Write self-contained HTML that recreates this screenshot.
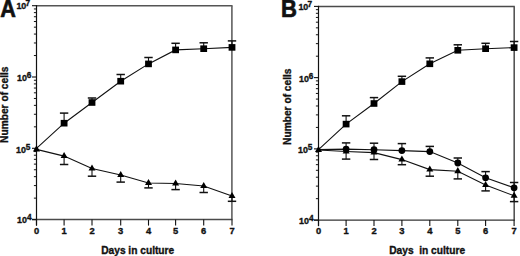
<!DOCTYPE html>
<html><head><meta charset="utf-8"><style>
html,body{margin:0;padding:0;background:#fff;width:520px;height:256px;overflow:hidden}
svg{display:block}
text{font-family:"Liberation Sans",sans-serif;font-weight:bold;fill:#111;stroke:#111;stroke-width:0.35px}
.big{stroke-width:0.65px}
</style></head><body>
<svg width="520" height="256" viewBox="0 0 520 256">
<line x1="36.50" y1="5.70" x2="232.50" y2="5.70" stroke="#555" stroke-width="1.5"/>
<line x1="231.90" y1="5.70" x2="231.90" y2="219.60" stroke="#606060" stroke-width="1.6"/>
<line x1="32.00" y1="219.60" x2="232.50" y2="219.60" stroke="#4a4a4a" stroke-width="1.5"/>
<line x1="36.50" y1="5.10" x2="36.50" y2="225.60" stroke="#111" stroke-width="1.2"/>
<line x1="32.00" y1="219.60" x2="36.50" y2="219.60" stroke="#111" stroke-width="1.1"/>
<line x1="33.90" y1="198.14" x2="36.50" y2="198.14" stroke="#111" stroke-width="1.0"/>
<line x1="33.90" y1="185.58" x2="36.50" y2="185.58" stroke="#111" stroke-width="1.0"/>
<line x1="33.90" y1="176.67" x2="36.50" y2="176.67" stroke="#111" stroke-width="1.0"/>
<line x1="33.90" y1="169.76" x2="36.50" y2="169.76" stroke="#111" stroke-width="1.0"/>
<line x1="33.90" y1="164.12" x2="36.50" y2="164.12" stroke="#111" stroke-width="1.0"/>
<line x1="33.90" y1="159.34" x2="36.50" y2="159.34" stroke="#111" stroke-width="1.0"/>
<line x1="33.90" y1="155.21" x2="36.50" y2="155.21" stroke="#111" stroke-width="1.0"/>
<line x1="33.90" y1="151.56" x2="36.50" y2="151.56" stroke="#111" stroke-width="1.0"/>
<text x="17.00" y="223.30" font-size="9.8" text-anchor="start" textLength="9.9" lengthAdjust="spacingAndGlyphs">10</text>
<text x="27.10" y="220.35" font-size="8.3" text-anchor="start" >4</text>
<line x1="32.00" y1="148.30" x2="36.50" y2="148.30" stroke="#111" stroke-width="1.1"/>
<line x1="33.90" y1="126.84" x2="36.50" y2="126.84" stroke="#111" stroke-width="1.0"/>
<line x1="33.90" y1="114.28" x2="36.50" y2="114.28" stroke="#111" stroke-width="1.0"/>
<line x1="33.90" y1="105.37" x2="36.50" y2="105.37" stroke="#111" stroke-width="1.0"/>
<line x1="33.90" y1="98.46" x2="36.50" y2="98.46" stroke="#111" stroke-width="1.0"/>
<line x1="33.90" y1="92.82" x2="36.50" y2="92.82" stroke="#111" stroke-width="1.0"/>
<line x1="33.90" y1="88.04" x2="36.50" y2="88.04" stroke="#111" stroke-width="1.0"/>
<line x1="33.90" y1="83.91" x2="36.50" y2="83.91" stroke="#111" stroke-width="1.0"/>
<line x1="33.90" y1="80.26" x2="36.50" y2="80.26" stroke="#111" stroke-width="1.0"/>
<text x="16.00" y="152.70" font-size="9.8" text-anchor="start" textLength="9.9" lengthAdjust="spacingAndGlyphs">10</text>
<text x="25.70" y="149.55" font-size="8.3" text-anchor="start" >5</text>
<line x1="32.00" y1="77.00" x2="36.50" y2="77.00" stroke="#111" stroke-width="1.1"/>
<line x1="33.90" y1="55.54" x2="36.50" y2="55.54" stroke="#111" stroke-width="1.0"/>
<line x1="33.90" y1="42.98" x2="36.50" y2="42.98" stroke="#111" stroke-width="1.0"/>
<line x1="33.90" y1="34.07" x2="36.50" y2="34.07" stroke="#111" stroke-width="1.0"/>
<line x1="33.90" y1="27.16" x2="36.50" y2="27.16" stroke="#111" stroke-width="1.0"/>
<line x1="33.90" y1="21.52" x2="36.50" y2="21.52" stroke="#111" stroke-width="1.0"/>
<line x1="33.90" y1="16.74" x2="36.50" y2="16.74" stroke="#111" stroke-width="1.0"/>
<line x1="33.90" y1="12.61" x2="36.50" y2="12.61" stroke="#111" stroke-width="1.0"/>
<line x1="33.90" y1="8.96" x2="36.50" y2="8.96" stroke="#111" stroke-width="1.0"/>
<text x="17.00" y="81.00" font-size="9.8" text-anchor="start" textLength="9.9" lengthAdjust="spacingAndGlyphs">10</text>
<text x="26.70" y="78.20" font-size="8.3" text-anchor="start" >6</text>
<line x1="32.00" y1="5.70" x2="36.50" y2="5.70" stroke="#111" stroke-width="1.1"/>
<text x="16.40" y="9.40" font-size="9.8" text-anchor="start" textLength="9.9" lengthAdjust="spacingAndGlyphs">10</text>
<text x="25.60" y="6.45" font-size="8.3" text-anchor="start" >7</text>
<line x1="36.50" y1="219.60" x2="36.50" y2="225.60" stroke="#111" stroke-width="1.1"/>
<text x="36.50" y="233.80" font-size="9.4" text-anchor="middle" >0</text>
<line x1="64.10" y1="219.60" x2="64.10" y2="225.60" stroke="#111" stroke-width="1.1"/>
<text x="64.10" y="233.80" font-size="9.4" text-anchor="middle" >1</text>
<line x1="92.00" y1="219.60" x2="92.00" y2="225.60" stroke="#111" stroke-width="1.1"/>
<text x="92.00" y="233.80" font-size="9.4" text-anchor="middle" >2</text>
<line x1="120.70" y1="219.60" x2="120.70" y2="225.60" stroke="#111" stroke-width="1.1"/>
<text x="120.70" y="233.80" font-size="9.4" text-anchor="middle" >3</text>
<line x1="148.50" y1="219.60" x2="148.50" y2="225.60" stroke="#111" stroke-width="1.1"/>
<text x="148.50" y="233.80" font-size="9.4" text-anchor="middle" >4</text>
<line x1="175.60" y1="219.60" x2="175.60" y2="225.60" stroke="#111" stroke-width="1.1"/>
<text x="175.60" y="233.80" font-size="9.4" text-anchor="middle" >5</text>
<line x1="203.70" y1="219.60" x2="203.70" y2="225.60" stroke="#111" stroke-width="1.1"/>
<text x="203.70" y="233.80" font-size="9.4" text-anchor="middle" >6</text>
<line x1="232.00" y1="219.60" x2="232.00" y2="225.60" stroke="#111" stroke-width="1.1"/>
<text x="232.00" y="233.80" font-size="9.4" text-anchor="middle" >7</text>
<text x="0" y="0" font-size="23" class="big" transform="translate(0.20,16.90) scale(0.94,1)">A</text>
<text x="101.20" y="253.60" font-size="10.2" text-anchor="start" >Days&#160;in&#160;culture</text>
<text x="0" y="0" font-size="10.2" transform="translate(8.30,104.70) rotate(-90)" text-anchor="middle">Number of cells</text>
<polyline points="36.50,148.30 64.10,123.20 92.00,102.50 120.70,81.20 148.50,63.90 175.60,49.90 203.70,48.70 232.00,47.40" fill="none" stroke="#111" stroke-width="1.1"/>
<polyline points="36.50,149.40 64.10,156.10 92.00,168.60 120.70,175.00 148.50,183.00 175.60,183.50 203.70,186.00 232.00,196.00" fill="none" stroke="#111" stroke-width="1.1"/>
<line x1="64.10" y1="123.20" x2="64.10" y2="113.10" stroke="#111" stroke-width="1.1"/>
<line x1="59.90" y1="113.10" x2="68.30" y2="113.10" stroke="#111" stroke-width="1.5"/>
<line x1="92.00" y1="102.50" x2="92.00" y2="98.00" stroke="#111" stroke-width="1.1"/>
<line x1="87.80" y1="98.00" x2="96.20" y2="98.00" stroke="#111" stroke-width="1.5"/>
<line x1="120.70" y1="81.20" x2="120.70" y2="74.50" stroke="#111" stroke-width="1.1"/>
<line x1="116.50" y1="74.50" x2="124.90" y2="74.50" stroke="#111" stroke-width="1.5"/>
<line x1="148.50" y1="63.90" x2="148.50" y2="57.50" stroke="#111" stroke-width="1.1"/>
<line x1="144.30" y1="57.50" x2="152.70" y2="57.50" stroke="#111" stroke-width="1.5"/>
<line x1="175.60" y1="49.90" x2="175.60" y2="43.30" stroke="#111" stroke-width="1.1"/>
<line x1="171.40" y1="43.30" x2="179.80" y2="43.30" stroke="#111" stroke-width="1.5"/>
<line x1="203.70" y1="48.70" x2="203.70" y2="42.80" stroke="#111" stroke-width="1.1"/>
<line x1="199.50" y1="42.80" x2="207.90" y2="42.80" stroke="#111" stroke-width="1.5"/>
<line x1="232.00" y1="47.40" x2="232.00" y2="40.90" stroke="#111" stroke-width="1.1"/>
<line x1="227.80" y1="40.90" x2="236.20" y2="40.90" stroke="#111" stroke-width="1.5"/>
<line x1="64.10" y1="156.10" x2="64.10" y2="164.50" stroke="#111" stroke-width="1.1"/>
<line x1="59.90" y1="164.50" x2="68.30" y2="164.50" stroke="#111" stroke-width="1.5"/>
<line x1="92.00" y1="168.60" x2="92.00" y2="176.20" stroke="#111" stroke-width="1.1"/>
<line x1="87.80" y1="176.20" x2="96.20" y2="176.20" stroke="#111" stroke-width="1.5"/>
<line x1="120.70" y1="175.00" x2="120.70" y2="182.10" stroke="#111" stroke-width="1.1"/>
<line x1="116.50" y1="182.10" x2="124.90" y2="182.10" stroke="#111" stroke-width="1.5"/>
<line x1="148.50" y1="183.00" x2="148.50" y2="187.90" stroke="#111" stroke-width="1.1"/>
<line x1="144.30" y1="187.90" x2="152.70" y2="187.90" stroke="#111" stroke-width="1.5"/>
<line x1="175.60" y1="183.50" x2="175.60" y2="189.60" stroke="#111" stroke-width="1.1"/>
<line x1="171.40" y1="189.60" x2="179.80" y2="189.60" stroke="#111" stroke-width="1.5"/>
<line x1="203.70" y1="186.00" x2="203.70" y2="192.50" stroke="#111" stroke-width="1.1"/>
<line x1="199.50" y1="192.50" x2="207.90" y2="192.50" stroke="#111" stroke-width="1.5"/>
<line x1="232.00" y1="196.00" x2="232.00" y2="201.30" stroke="#111" stroke-width="1.1"/>
<line x1="227.80" y1="201.30" x2="236.20" y2="201.30" stroke="#111" stroke-width="1.5"/>
<rect x="60.70" y="119.90" width="6.8" height="6.6" fill="#000"/>
<rect x="88.60" y="99.20" width="6.8" height="6.6" fill="#000"/>
<rect x="117.30" y="77.90" width="6.8" height="6.6" fill="#000"/>
<rect x="145.10" y="60.60" width="6.8" height="6.6" fill="#000"/>
<rect x="172.20" y="46.60" width="6.8" height="6.6" fill="#000"/>
<rect x="200.30" y="45.40" width="6.8" height="6.6" fill="#000"/>
<rect x="228.60" y="44.10" width="6.8" height="6.6" fill="#000"/>
<path d="M36.50,145.30 L40.00,151.40 L33.00,151.40 Z" fill="#000"/>
<path d="M64.10,152.00 L67.60,158.10 L60.60,158.10 Z" fill="#000"/>
<path d="M92.00,164.50 L95.50,170.60 L88.50,170.60 Z" fill="#000"/>
<path d="M120.70,170.90 L124.20,177.00 L117.20,177.00 Z" fill="#000"/>
<path d="M148.50,178.90 L152.00,185.00 L145.00,185.00 Z" fill="#000"/>
<path d="M175.60,179.40 L179.10,185.50 L172.10,185.50 Z" fill="#000"/>
<path d="M203.70,181.90 L207.20,188.00 L200.20,188.00 Z" fill="#000"/>
<path d="M232.00,191.90 L235.50,198.00 L228.50,198.00 Z" fill="#000"/>
<line x1="318.50" y1="6.40" x2="514.80" y2="6.40" stroke="#4a4a4a" stroke-width="1.5"/>
<line x1="514.20" y1="6.40" x2="514.20" y2="220.10" stroke="#555" stroke-width="1.6"/>
<line x1="314.00" y1="220.10" x2="514.80" y2="220.10" stroke="#333" stroke-width="1.4"/>
<line x1="318.50" y1="5.80" x2="318.50" y2="226.10" stroke="#111" stroke-width="1.2"/>
<line x1="314.00" y1="220.10" x2="318.50" y2="220.10" stroke="#111" stroke-width="1.1"/>
<line x1="315.90" y1="198.66" x2="318.50" y2="198.66" stroke="#111" stroke-width="1.0"/>
<line x1="315.90" y1="186.11" x2="318.50" y2="186.11" stroke="#111" stroke-width="1.0"/>
<line x1="315.90" y1="177.21" x2="318.50" y2="177.21" stroke="#111" stroke-width="1.0"/>
<line x1="315.90" y1="170.31" x2="318.50" y2="170.31" stroke="#111" stroke-width="1.0"/>
<line x1="315.90" y1="164.67" x2="318.50" y2="164.67" stroke="#111" stroke-width="1.0"/>
<line x1="315.90" y1="159.90" x2="318.50" y2="159.90" stroke="#111" stroke-width="1.0"/>
<line x1="315.90" y1="155.77" x2="318.50" y2="155.77" stroke="#111" stroke-width="1.0"/>
<line x1="315.90" y1="152.13" x2="318.50" y2="152.13" stroke="#111" stroke-width="1.0"/>
<text x="299.00" y="223.80" font-size="9.8" text-anchor="start" textLength="9.9" lengthAdjust="spacingAndGlyphs">10</text>
<text x="309.10" y="220.85" font-size="8.3" text-anchor="start" >4</text>
<line x1="314.00" y1="148.87" x2="318.50" y2="148.87" stroke="#111" stroke-width="1.1"/>
<line x1="315.90" y1="127.42" x2="318.50" y2="127.42" stroke="#111" stroke-width="1.0"/>
<line x1="315.90" y1="114.88" x2="318.50" y2="114.88" stroke="#111" stroke-width="1.0"/>
<line x1="315.90" y1="105.98" x2="318.50" y2="105.98" stroke="#111" stroke-width="1.0"/>
<line x1="315.90" y1="99.08" x2="318.50" y2="99.08" stroke="#111" stroke-width="1.0"/>
<line x1="315.90" y1="93.44" x2="318.50" y2="93.44" stroke="#111" stroke-width="1.0"/>
<line x1="315.90" y1="88.67" x2="318.50" y2="88.67" stroke="#111" stroke-width="1.0"/>
<line x1="315.90" y1="84.54" x2="318.50" y2="84.54" stroke="#111" stroke-width="1.0"/>
<line x1="315.90" y1="80.89" x2="318.50" y2="80.89" stroke="#111" stroke-width="1.0"/>
<text x="298.00" y="153.27" font-size="9.8" text-anchor="start" textLength="9.9" lengthAdjust="spacingAndGlyphs">10</text>
<text x="307.70" y="150.12" font-size="8.3" text-anchor="start" >5</text>
<line x1="314.00" y1="77.63" x2="318.50" y2="77.63" stroke="#111" stroke-width="1.1"/>
<line x1="315.90" y1="56.19" x2="318.50" y2="56.19" stroke="#111" stroke-width="1.0"/>
<line x1="315.90" y1="43.65" x2="318.50" y2="43.65" stroke="#111" stroke-width="1.0"/>
<line x1="315.90" y1="34.75" x2="318.50" y2="34.75" stroke="#111" stroke-width="1.0"/>
<line x1="315.90" y1="27.84" x2="318.50" y2="27.84" stroke="#111" stroke-width="1.0"/>
<line x1="315.90" y1="22.20" x2="318.50" y2="22.20" stroke="#111" stroke-width="1.0"/>
<line x1="315.90" y1="17.43" x2="318.50" y2="17.43" stroke="#111" stroke-width="1.0"/>
<line x1="315.90" y1="13.30" x2="318.50" y2="13.30" stroke="#111" stroke-width="1.0"/>
<line x1="315.90" y1="9.66" x2="318.50" y2="9.66" stroke="#111" stroke-width="1.0"/>
<text x="299.00" y="81.63" font-size="9.8" text-anchor="start" textLength="9.9" lengthAdjust="spacingAndGlyphs">10</text>
<text x="308.70" y="78.83" font-size="8.3" text-anchor="start" >6</text>
<line x1="314.00" y1="6.40" x2="318.50" y2="6.40" stroke="#111" stroke-width="1.1"/>
<text x="298.40" y="10.10" font-size="9.8" text-anchor="start" textLength="9.9" lengthAdjust="spacingAndGlyphs">10</text>
<text x="307.60" y="7.15" font-size="8.3" text-anchor="start" >7</text>
<line x1="318.50" y1="220.10" x2="318.50" y2="226.10" stroke="#111" stroke-width="1.1"/>
<text x="318.50" y="234.30" font-size="9.4" text-anchor="middle" >0</text>
<line x1="346.10" y1="220.10" x2="346.10" y2="226.10" stroke="#111" stroke-width="1.1"/>
<text x="346.10" y="234.30" font-size="9.4" text-anchor="middle" >1</text>
<line x1="374.00" y1="220.10" x2="374.00" y2="226.10" stroke="#111" stroke-width="1.1"/>
<text x="374.00" y="234.30" font-size="9.4" text-anchor="middle" >2</text>
<line x1="401.90" y1="220.10" x2="401.90" y2="226.10" stroke="#111" stroke-width="1.1"/>
<text x="401.90" y="234.30" font-size="9.4" text-anchor="middle" >3</text>
<line x1="429.80" y1="220.10" x2="429.80" y2="226.10" stroke="#111" stroke-width="1.1"/>
<text x="429.80" y="234.30" font-size="9.4" text-anchor="middle" >4</text>
<line x1="457.80" y1="220.10" x2="457.80" y2="226.10" stroke="#111" stroke-width="1.1"/>
<text x="457.80" y="234.30" font-size="9.4" text-anchor="middle" >5</text>
<line x1="485.60" y1="220.10" x2="485.60" y2="226.10" stroke="#111" stroke-width="1.1"/>
<text x="485.60" y="234.30" font-size="9.4" text-anchor="middle" >6</text>
<line x1="514.10" y1="220.10" x2="514.10" y2="226.10" stroke="#111" stroke-width="1.1"/>
<text x="514.10" y="234.30" font-size="9.4" text-anchor="middle" >7</text>
<text x="0" y="0" font-size="23" class="big" transform="translate(281.10,16.70) scale(0.96,1)">B</text>
<text x="389.20" y="254.10" font-size="10.2" text-anchor="start" >Days&#160;&#160;in&#160;culture</text>
<text x="0" y="0" font-size="10.2" transform="translate(291.00,106.70) rotate(-90)" text-anchor="middle">Number of cells</text>
<polyline points="318.50,149.60 346.10,124.10 374.00,103.50 401.90,81.60 429.80,63.80 457.80,50.30 485.60,48.70 514.10,47.60" fill="none" stroke="#111" stroke-width="1.1"/>
<polyline points="318.50,149.60 346.10,149.10 374.00,149.70 401.90,150.60 429.80,151.60 457.80,163.00 485.60,177.80 514.10,187.80" fill="none" stroke="#111" stroke-width="1.1"/>
<polyline points="318.50,150.00 346.10,151.50 374.00,152.60 401.90,159.60 429.80,169.60 457.80,171.20 485.60,185.00 514.10,195.80" fill="none" stroke="#111" stroke-width="1.1"/>
<line x1="346.10" y1="124.10" x2="346.10" y2="115.80" stroke="#111" stroke-width="1.1"/>
<line x1="341.90" y1="115.80" x2="350.30" y2="115.80" stroke="#111" stroke-width="1.5"/>
<line x1="374.00" y1="103.50" x2="374.00" y2="97.60" stroke="#111" stroke-width="1.1"/>
<line x1="369.80" y1="97.60" x2="378.20" y2="97.60" stroke="#111" stroke-width="1.5"/>
<line x1="401.90" y1="81.60" x2="401.90" y2="76.30" stroke="#111" stroke-width="1.1"/>
<line x1="397.70" y1="76.30" x2="406.10" y2="76.30" stroke="#111" stroke-width="1.5"/>
<line x1="429.80" y1="63.80" x2="429.80" y2="57.90" stroke="#111" stroke-width="1.1"/>
<line x1="425.60" y1="57.90" x2="434.00" y2="57.90" stroke="#111" stroke-width="1.5"/>
<line x1="457.80" y1="50.30" x2="457.80" y2="44.80" stroke="#111" stroke-width="1.1"/>
<line x1="453.60" y1="44.80" x2="462.00" y2="44.80" stroke="#111" stroke-width="1.5"/>
<line x1="485.60" y1="48.70" x2="485.60" y2="43.30" stroke="#111" stroke-width="1.1"/>
<line x1="481.40" y1="43.30" x2="489.80" y2="43.30" stroke="#111" stroke-width="1.5"/>
<line x1="514.10" y1="47.60" x2="514.10" y2="41.50" stroke="#111" stroke-width="1.1"/>
<line x1="509.90" y1="41.50" x2="518.30" y2="41.50" stroke="#111" stroke-width="1.5"/>
<line x1="346.10" y1="149.10" x2="346.10" y2="142.90" stroke="#111" stroke-width="1.1"/>
<line x1="341.90" y1="142.90" x2="350.30" y2="142.90" stroke="#111" stroke-width="1.5"/>
<line x1="374.00" y1="149.70" x2="374.00" y2="143.20" stroke="#111" stroke-width="1.1"/>
<line x1="369.80" y1="143.20" x2="378.20" y2="143.20" stroke="#111" stroke-width="1.5"/>
<line x1="401.90" y1="150.60" x2="401.90" y2="143.60" stroke="#111" stroke-width="1.1"/>
<line x1="397.70" y1="143.60" x2="406.10" y2="143.60" stroke="#111" stroke-width="1.5"/>
<line x1="429.80" y1="151.60" x2="429.80" y2="146.40" stroke="#111" stroke-width="1.1"/>
<line x1="425.60" y1="146.40" x2="434.00" y2="146.40" stroke="#111" stroke-width="1.5"/>
<line x1="457.80" y1="163.00" x2="457.80" y2="158.00" stroke="#111" stroke-width="1.1"/>
<line x1="453.60" y1="158.00" x2="462.00" y2="158.00" stroke="#111" stroke-width="1.5"/>
<line x1="485.60" y1="177.80" x2="485.60" y2="171.60" stroke="#111" stroke-width="1.1"/>
<line x1="481.40" y1="171.60" x2="489.80" y2="171.60" stroke="#111" stroke-width="1.5"/>
<line x1="514.10" y1="187.80" x2="514.10" y2="182.50" stroke="#111" stroke-width="1.1"/>
<line x1="509.90" y1="182.50" x2="518.30" y2="182.50" stroke="#111" stroke-width="1.5"/>
<line x1="346.10" y1="151.50" x2="346.10" y2="159.10" stroke="#111" stroke-width="1.1"/>
<line x1="341.90" y1="159.10" x2="350.30" y2="159.10" stroke="#111" stroke-width="1.5"/>
<line x1="374.00" y1="152.60" x2="374.00" y2="159.50" stroke="#111" stroke-width="1.1"/>
<line x1="369.80" y1="159.50" x2="378.20" y2="159.50" stroke="#111" stroke-width="1.5"/>
<line x1="401.90" y1="159.60" x2="401.90" y2="164.70" stroke="#111" stroke-width="1.1"/>
<line x1="397.70" y1="164.70" x2="406.10" y2="164.70" stroke="#111" stroke-width="1.5"/>
<line x1="429.80" y1="169.60" x2="429.80" y2="176.20" stroke="#111" stroke-width="1.1"/>
<line x1="425.60" y1="176.20" x2="434.00" y2="176.20" stroke="#111" stroke-width="1.5"/>
<line x1="457.80" y1="171.20" x2="457.80" y2="178.90" stroke="#111" stroke-width="1.1"/>
<line x1="453.60" y1="178.90" x2="462.00" y2="178.90" stroke="#111" stroke-width="1.5"/>
<line x1="485.60" y1="185.00" x2="485.60" y2="190.90" stroke="#111" stroke-width="1.1"/>
<line x1="481.40" y1="190.90" x2="489.80" y2="190.90" stroke="#111" stroke-width="1.5"/>
<line x1="514.10" y1="195.80" x2="514.10" y2="201.60" stroke="#111" stroke-width="1.1"/>
<line x1="509.90" y1="201.60" x2="518.30" y2="201.60" stroke="#111" stroke-width="1.5"/>
<rect x="342.70" y="120.80" width="6.8" height="6.6" fill="#000"/>
<rect x="370.60" y="100.20" width="6.8" height="6.6" fill="#000"/>
<rect x="398.50" y="78.30" width="6.8" height="6.6" fill="#000"/>
<rect x="426.40" y="60.50" width="6.8" height="6.6" fill="#000"/>
<rect x="454.40" y="47.00" width="6.8" height="6.6" fill="#000"/>
<rect x="482.20" y="45.40" width="6.8" height="6.6" fill="#000"/>
<rect x="510.70" y="44.30" width="6.8" height="6.6" fill="#000"/>
<circle cx="346.10" cy="149.10" r="3.4" fill="#000"/>
<circle cx="374.00" cy="149.70" r="3.4" fill="#000"/>
<circle cx="401.90" cy="150.60" r="3.4" fill="#000"/>
<circle cx="429.80" cy="151.60" r="3.4" fill="#000"/>
<circle cx="457.80" cy="163.00" r="3.4" fill="#000"/>
<circle cx="485.60" cy="177.80" r="3.4" fill="#000"/>
<circle cx="514.10" cy="187.80" r="3.4" fill="#000"/>
<path d="M318.50,145.90 L322.00,152.00 L315.00,152.00 Z" fill="#000"/>
<path d="M346.10,147.40 L349.60,153.50 L342.60,153.50 Z" fill="#000"/>
<path d="M374.00,148.50 L377.50,154.60 L370.50,154.60 Z" fill="#000"/>
<path d="M401.90,155.50 L405.40,161.60 L398.40,161.60 Z" fill="#000"/>
<path d="M429.80,165.50 L433.30,171.60 L426.30,171.60 Z" fill="#000"/>
<path d="M457.80,167.10 L461.30,173.20 L454.30,173.20 Z" fill="#000"/>
<path d="M485.60,180.90 L489.10,187.00 L482.10,187.00 Z" fill="#000"/>
<path d="M514.10,191.70 L517.60,197.80 L510.60,197.80 Z" fill="#000"/>
</svg>
</body></html>
